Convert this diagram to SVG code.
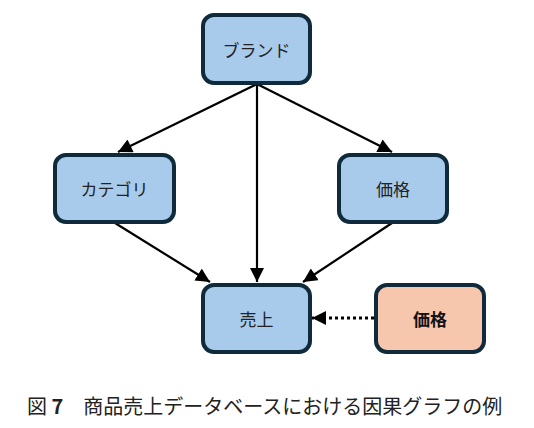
<svg xmlns="http://www.w3.org/2000/svg" width="534" height="428" viewBox="0 0 534 428">
<style>
.node{stroke:#0f2a3b;stroke-width:4}
.blue{fill:#a8caeb}
.orange{fill:#f6c6ad}
.lbl{font-family:"Noto Sans CJK JP","Noto Sans",sans-serif;font-size:17px;fill:#222;text-anchor:middle;dominant-baseline:central}
.bold{font-weight:bold;fill:#111}
.edge{stroke:#000;stroke-width:2.2;fill:none}
.dot{stroke:#000;stroke-width:3;stroke-dasharray:3 3;fill:none}
.cap{font-family:"Noto Sans CJK JP","Noto Sans",sans-serif;font-size:20px;fill:#222}
</style>
<defs>
<marker id="ah" viewBox="0 0 10 10" refX="10" refY="5" markerWidth="14.5" markerHeight="14" markerUnits="userSpaceOnUse" orient="auto">
<path d="M0,0 L10,5 L0,10 z" fill="#000"/>
</marker>
</defs>
<g id="connectors">
<line class="edge" x1="257" y1="84" x2="118" y2="152" marker-end="url(#ah)"/>
<line class="edge" x1="257" y1="84" x2="257" y2="282" marker-end="url(#ah)"/>
<line class="edge" x1="257" y1="84" x2="392" y2="152" marker-end="url(#ah)"/>
<line class="edge" x1="115" y1="223" x2="210" y2="282" marker-end="url(#ah)"/>
<line class="edge" x1="392" y1="223" x2="303" y2="282" marker-end="url(#ah)"/>
<line class="dot" x1="374" y1="318" x2="312" y2="318" marker-end="url(#ah)"/>
</g>
<g id="brand">
<rect class="node blue" x="203" y="15" width="107" height="68" rx="11"/>
<text class="lbl" x="256.5" y="49">ブランド</text>
</g>
<g id="category">
<rect class="node blue" x="55" y="155" width="119" height="67" rx="11"/>
<text class="lbl" x="114.5" y="188.5">カテゴリ</text>
</g>
<g id="price">
<rect class="node blue" x="339" y="155" width="108" height="67" rx="11"/>
<text class="lbl" x="393" y="188.5">価格</text>
</g>
<g id="sales">
<rect class="node blue" x="203" y="285" width="107" height="67" rx="11"/>
<text class="lbl" x="256.5" y="318.5">売上</text>
</g>
<g id="price-intervention">
<rect class="node orange" x="376" y="285" width="108" height="67" rx="11"/>
<text class="lbl bold" x="430" y="318.5">価格</text>
</g>
<g id="caption">
<text class="cap" x="27" y="414">図 <tspan font-weight="bold">7</tspan>　商品売上データベースにおける因果グラフの例</text>
</g>
</svg>
